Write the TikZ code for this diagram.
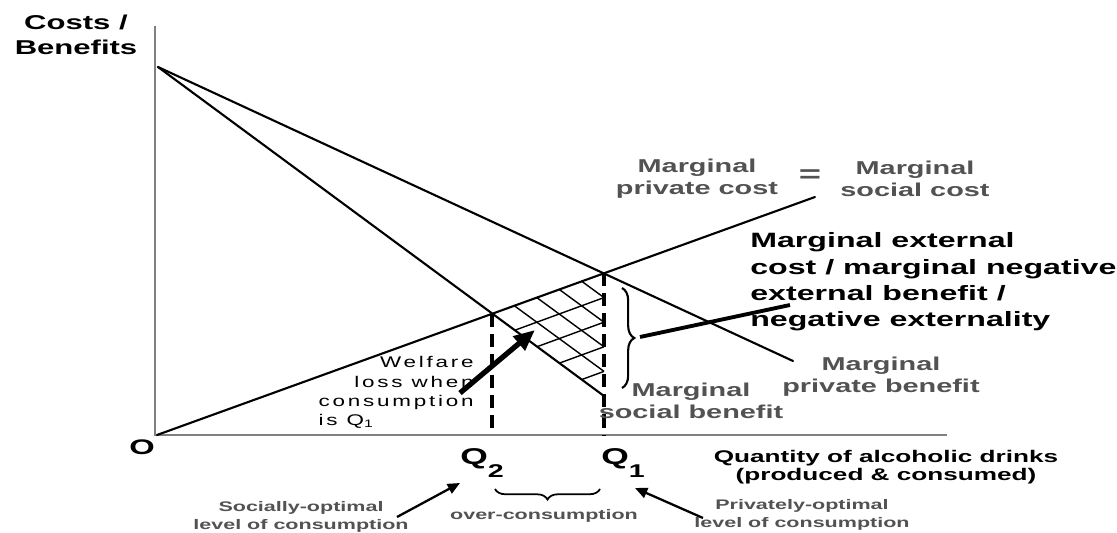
\documentclass[tikz,border=0pt]{standalone}
\usepackage{fontspec}
\setmainfont{Liberation Sans}
\newfontfamily\widefont[FakeStretch=1.55]{Liberation Sans}
\newfontfamily\spacedfont[FakeStretch=1.45,LetterSpace=18]{Liberation Sans}
\usetikzlibrary{calc, arrows.meta, decorations.pathreplacing}
\definecolor{labelgray}{RGB}{82,82,82}
\definecolor{axisgray}{RGB}{128,128,128}
\newcommand{\lowsub}[2]{#1\raisebox{-7pt}{\fontsize{10.5}{10.5}\selectfont #2}}

\tikzset{
  curve/.style={line width=1.2pt, line cap=round},
  axisline/.style={line width=1.4pt, draw=axisgray},
  qline/.style={line width=2.2pt, dash pattern=on 7.5pt off 4pt},
  hatch/.style={line width=0.8pt},
  bigarrow/.style={line width=3pt, -{Triangle[length=12pt,width=10pt]}},
  smallarrow/.style={line width=1.3pt, -{Triangle[length=7pt,width=6pt]}},
  curvelbl/.style={inner sep=0, align=center, text=labelgray,
    font=\widefont\bfseries\fontsize{10.6}{12.5}\selectfont},
  smalllbl/.style={inner sep=0, align=center, text=labelgray,
    font=\widefont\bfseries\fontsize{7.9}{10.2}\selectfont},
}

\begin{document}
\begin{tikzpicture}[x=0.02cm, y=-0.02cm]
\useasboundingbox (0,0) rectangle (1117,533);

% points of the curves
\coordinate (ytop) at (155,26);
\coordinate (corner) at (155,435);
\coordinate (xend) at (947,435);
\coordinate (peak) at (158,67);
\coordinate (origin) at (157,435);
\coordinate (mpcend) at (815,197);
\coordinate (mpbend) at (793,361);
\coordinate (msbend) at (604,396);
\coordinate (q1pt) at (604,273);
\coordinate (q2pt) at (492,314);

\draw[axisline] (ytop) -- (corner) -- (xend);

\draw[curve] (peak) -- (mpbend);
\draw[curve] (peak) -- (msbend);
\draw[curve] (origin) -- (mpcend);

\draw[qline] (q2pt) -- (q2pt |- corner);
\draw[qline] (q1pt) -- (q1pt |- corner);

% welfare loss triangle
\foreach \t in {0.2,0.4,0.6,0.8} {
  \draw[hatch] ($(q2pt)!\t!(q1pt)$) -- ($(msbend)!\t!(q1pt)$);
  \draw[hatch] ($(q2pt)!\t!(msbend)$) -- ($(q1pt)!\t!(msbend)$);
}

\draw[line width=1.2pt, decorate, decoration={brace, amplitude=7pt}] (622,288) -- (622,388);
\draw[line width=1pt, decorate, decoration={brace, mirror, amplitude=6pt}] (495,489) -- (600,489);

% labels
\node[inner sep=0, align=center, font=\widefont\bfseries\fontsize{11.4}{14.2}\selectfont] (axisy) at (76,35) {Costs /\\Benefits};
\node[inner sep=0, font=\widefont\bfseries\fontsize{12}{12}\selectfont] (olbl) at (142,447) {O};
\node[inner sep=0, align=center, font=\widefont\bfseries\fontsize{9.6}{10.2}\selectfont] (axisx) at (886,467) {Quantity of alcoholic drinks\\(produced \& consumed)};

\node[curvelbl] (mpclbl) at (697,179) {Marginal\\private cost};
\node[inner sep=0, text=labelgray, font=\widefont\bfseries\fontsize{14}{14}\selectfont] (eqlbl) at (810,176) {=};
\node[curvelbl] (msclbl) at (915,179) {Marginal\\social cost};
\node[curvelbl] (mpblbl) at (881,377) {Marginal\\private benefit};
\node[curvelbl] (msblbl) at (691,401) {Marginal\\social benefit};

\node[inner sep=0, anchor=west, align=left, font=\widefont\bfseries\fontsize{11.8}{15}\selectfont] (meclbl) at (750,282)
  {Marginal external\\cost / marginal negative\\external benefit /\\negative externality};

\node[inner sep=0, anchor=east, font=\spacedfont\fontsize{8.8}{11}\selectfont] (welfare) at (474,393)
  {\begin{tabular}{@{}r@{}}Welfare\\loss when\\consumption\\\multicolumn{1}{@{}l@{}}{is Q\textsubscript{1}}\end{tabular}};

\node[inner sep=0, anchor=base west, font=\widefont\bfseries\fontsize{13}{13}\selectfont] (q2lbl) at (460,465) {\lowsub{Q}{2}};
\node[inner sep=0, anchor=base west, font=\widefont\bfseries\fontsize{13}{13}\selectfont] (q1lbl) at (601,465) {\lowsub{Q}{1}};

\node[smalllbl] (socopt) at (301,517) {Socially-optimal\\level of consumption};
\node[smalllbl] (privopt) at (802,515) {Privately-optimal\\level of consumption};
\node[smalllbl, anchor=base] (overlbl) at (544,520) {over-consumption};

% arrows
\coordinate (wltail) at (460,393);
\coordinate (wlhead) at (535,330);
\coordinate (mectail) at (790,305);
\coordinate (bracetip) at (640,337);
\coordinate (sotail) at (397,517);
\coordinate (sohead) at (460,483);
\coordinate (potail) at (703,518);
\coordinate (pohead) at (635,488);

\draw[bigarrow] (wltail) -- (wlhead);
\draw[line width=2.2pt] (mectail) -- (bracetip);
\draw[smallarrow] (sotail) -- (sohead);
\draw[smallarrow] (potail) -- (pohead);
\end{tikzpicture}
\end{document}
